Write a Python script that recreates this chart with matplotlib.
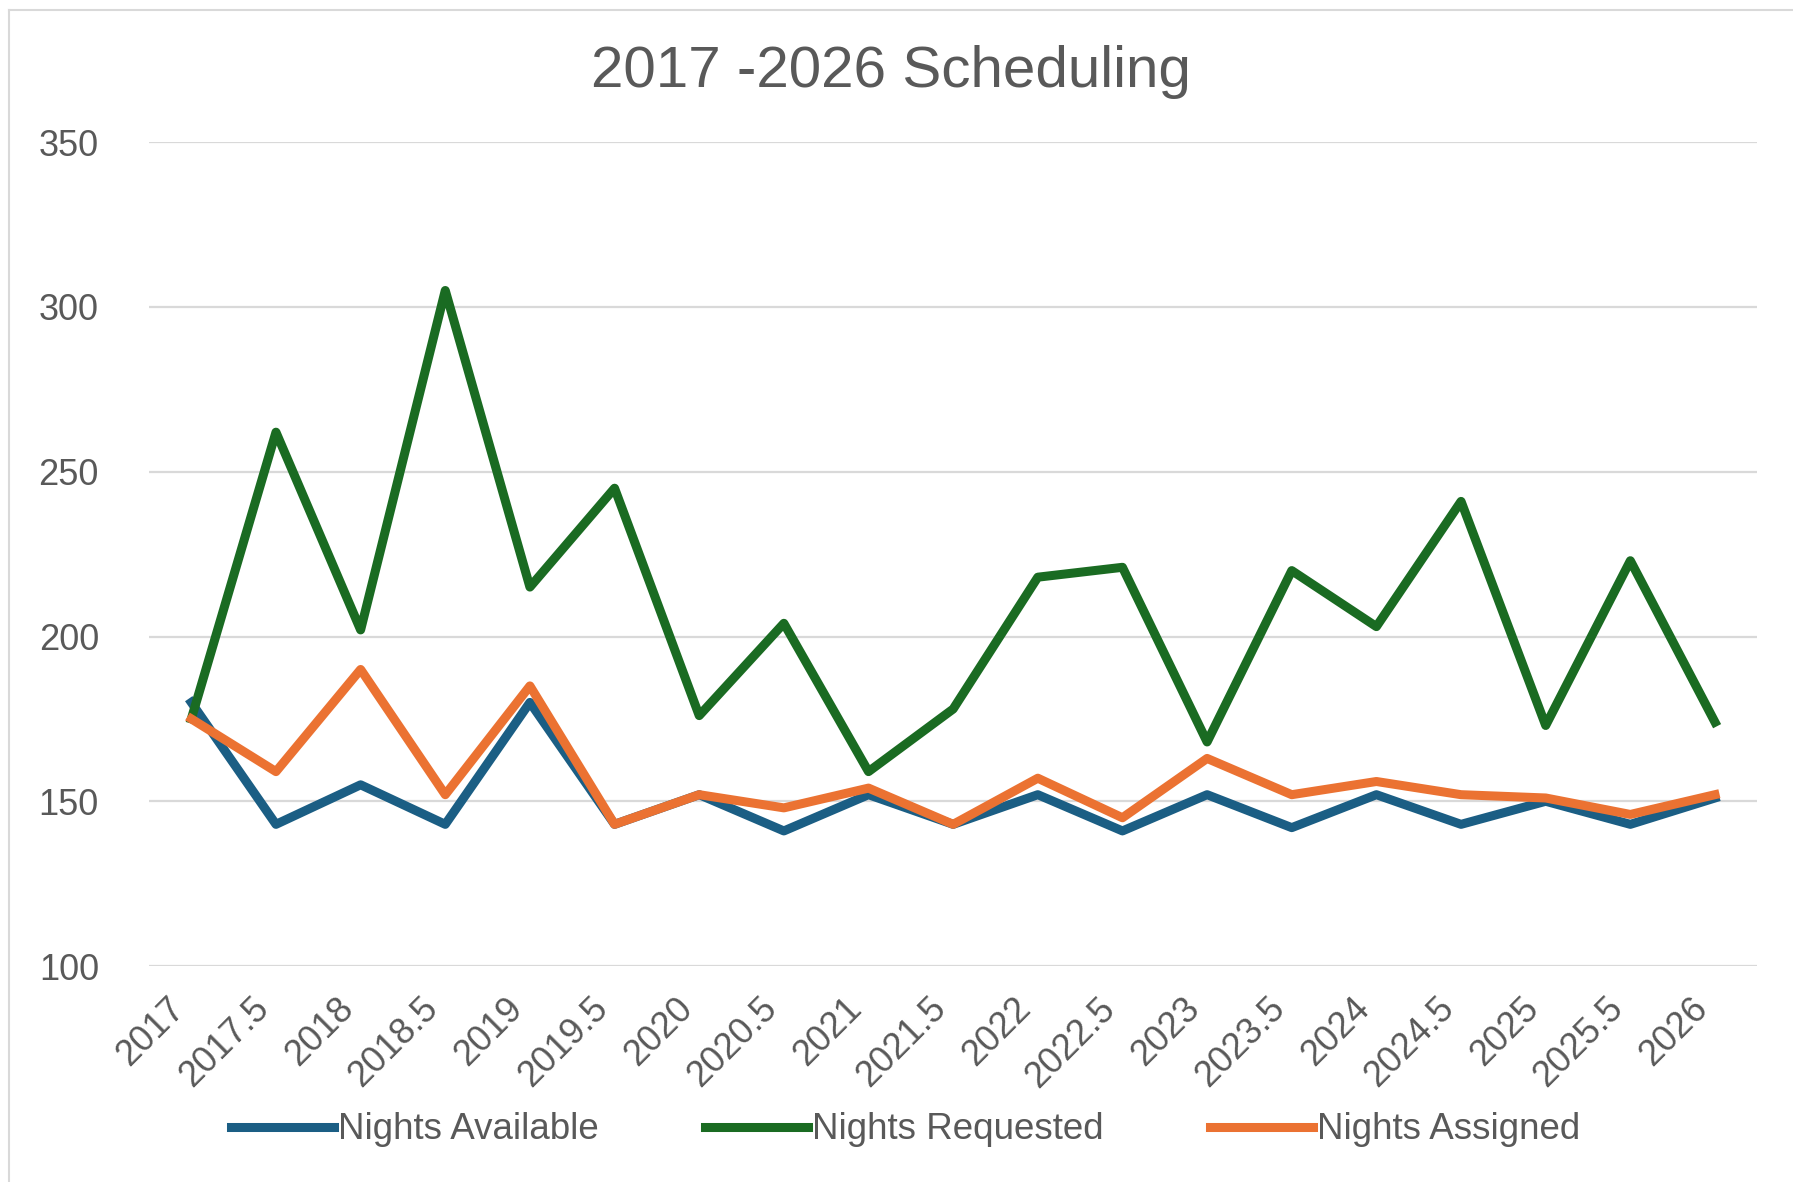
import matplotlib
matplotlib.use('Agg')
import matplotlib.pyplot as plt
from matplotlib.lines import Line2D

# Data
periods = ['2017', '2017.5', '2018', '2018.5', '2019', '2019.5', '2020', '2020.5',
           '2021', '2021.5', '2022', '2022.5', '2023', '2023.5', '2024', '2024.5',
           '2025', '2025.5', '2026']
nights_available = [180, 143, 155, 143, 180, 143, 152, 141, 152, 143,
                    152, 141, 152, 142, 152, 143, 150, 143, 151]
nights_requested = [175, 262, 202, 305, 215, 245, 176, 204, 159, 178,
                    218, 221, 168, 220, 203, 241, 173, 223, 174]
nights_assigned = [175, 159, 190, 152, 185, 143, 152, 148, 154, 143,
                   157, 145, 163, 152, 156, 152, 151, 146, 152]

plt.rcParams['font.family'] = ['Liberation Sans', 'DejaVu Sans']
text_color = '#595959'
colors = ['#1B5E84', '#1A6B22', '#EB7232']

fig = plt.figure(figsize=(17.93, 11.82), dpi=100)
ax = fig.add_axes([0.0831, 0.1827, 0.897, 0.697])

x = range(len(periods))
ax.plot(x, nights_available, color=colors[0], lw=6.5, label='Nights Available', zorder=3)
ax.plot(x, nights_requested, color=colors[1], lw=6.5, label='Nights Requested', zorder=3)
ax.plot(x, nights_assigned, color=colors[2], lw=6.5, label='Nights Assigned', zorder=4)

ax.set_xlim(-0.5, len(periods) - 0.5)
ax.set_ylim(100, 350)
ax.set_yticks([100, 150, 200, 250, 300, 350])
ax.set_xticks(list(x))
ax.set_xticklabels(periods, rotation=45, ha='right')
ax.tick_params(axis='both', length=0, labelsize=26, colors=text_color)
ax.tick_params(axis='x', pad=18)
ax.tick_params(axis='y', pad=36)
ax.yaxis.grid(True, color='#d9d9d9', lw=1.6)
ax.set_axisbelow(True)
for s in ax.spines.values():
    s.set_visible(False)

fig.text(0.497, 0.939, '2017 -2026 Scheduling', ha='center', va='center',
         fontsize=42, color=text_color)

handles = [Line2D([], [], color=c, lw=6.5) for c in colors]
fig.legend(handles, ['Nights Available', 'Nights Requested', 'Nights Assigned'],
           loc='center', bbox_to_anchor=(0.505, 0.044), ncol=3, frameon=False,
           fontsize=26.5, handlelength=2.8, handletextpad=0.1, columnspacing=2.9,
           labelcolor=text_color)

# light outer border (top and left visible in the reference)
fig.add_artist(Line2D([0.005, 1.0], [0.9915, 0.9915], color='#d9d9d9', lw=1.5))
fig.add_artist(Line2D([0.005, 0.005], [0.0, 0.9915], color='#d9d9d9', lw=1.5))

fig.savefig('out.png', dpi=100, facecolor='white')
